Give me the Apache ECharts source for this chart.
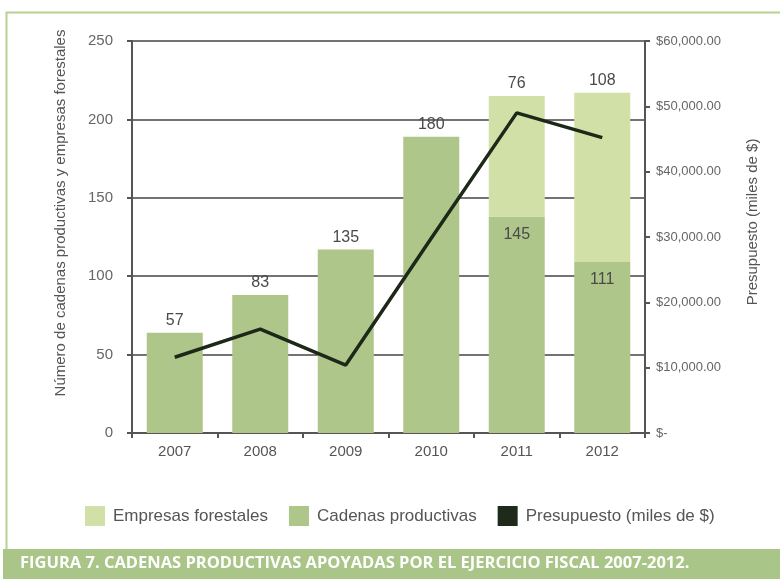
<!DOCTYPE html>
<html>
<head>
<meta charset="utf-8">
<script src="https://cdn.jsdelivr.net/npm/echarts@6/dist/echarts.min.js"></script>
<style>
  html, body { margin: 0; padding: 0; background: #fff; }
  #main { width: 780px; height: 579px; }
</style>
</head>
<body>
<div id="main"></div>
<script>
// datos
const years = ['2007', '2008', '2009', '2010', '2011', '2012']
const cadenas = [64, 88, 117, 189, 138, 109] // altura de la barra
const cadenasLabels = [57, 83, 135, 180, 145, 111] // etiqueta impresa
const empresas = ['-', '-', '-', '-', 77, 108]
const empresasLabels = ['', '', '', '', 76, 108]
const presupuesto = [11600, 15900, 10400, 29800, 49000, 45200]
const leftTicks = [0, 250, 50]
const rightTicks = [0, 60000, 10000]

const font = 'Liberation Sans'
const chart = echarts.init(document.getElementById('main'))

const option = {
  backgroundColor: '#fff',
  textStyle: { fontFamily: font },
  animation: false,
  grid: { left: 132, right: 135, top: 41, bottom: 146 },
  legend: {
    top: 506,
    left: 85,
    padding: 0,
    itemWidth: 20,
    itemHeight: 20,
    itemGap: 21,
    icon: 'rect',
    textStyle: { fontSize: 17, color: '#555', fontFamily: font, padding: [0, 0, 0, 3] },
    data: [
      { name: 'Empresas forestales' },
      { name: 'Cadenas productivas' },
      { name: 'Presupuesto (miles de $)', itemStyle: { color: '#1f2a1a' } }
    ]
  },
  xAxis: {
    type: 'category',
    data: years,
    axisLine: { lineStyle: { color: '#555', width: 2 } },
    axisTick: { show: true, length: 5, lineStyle: { color: '#555', width: 2 } },
    axisLabel: { color: '#555', fontSize: 15, margin: 11 }
  },
  yAxis: [
    {
      type: 'value',
      min: leftTicks[0],
      max: leftTicks[1],
      interval: leftTicks[2],
      name: 'Número de cadenas productivas y empresas forestales',
      nameLocation: 'middle',
      nameRotate: 90,
      nameGap: 64,
      nameTextStyle: { fontSize: 15, color: '#555', padding: [0, 0, 0, 48] },
      axisLine: { show: true, lineStyle: { color: '#555', width: 2 } },
      axisTick: { show: true, length: 5, lineStyle: { color: '#555', width: 2 } },
      axisLabel: { color: '#666', fontSize: 15, margin: 19 },
      splitLine: { show: true, lineStyle: { color: '#444', width: 1.5 } }
    },
    {
      type: 'value',
      position: 'right',
      min: rightTicks[0],
      max: rightTicks[1],
      interval: rightTicks[2],
      name: 'Presupuesto (miles de $)',
      nameLocation: 'middle',
      nameRotate: 90,
      nameGap: 100,
      nameTextStyle: { fontSize: 15, color: '#555', padding: [0, 0, 0, 30] },
      axisLine: { show: true, lineStyle: { color: '#555', width: 2 } },
      axisTick: { show: true, length: 5, lineStyle: { color: '#555', width: 2 } },
      axisLabel: {
        color: '#666',
        fontSize: 13,
        margin: 11,
        formatter: v => v === 0 ? '$-' : '$' + v.toLocaleString('en-US', { minimumFractionDigits: 2 })
      },
      splitLine: { show: false }
    }
  ],
  series: [
    {
      name: 'Cadenas productivas',
      type: 'bar',
      stack: 'total',
      barWidth: 56,
      itemStyle: { color: '#afc68a' },
      label: {
        show: true,
        color: '#4a4a4a',
        fontSize: 16,
        formatter: p => cadenasLabels[p.dataIndex]
      },
      data: cadenas.map((v, i) => ({
        value: v,
        label: empresas[i] === '-'
          ? { position: 'top', distance: 4 }
          : { position: 'insideTop', distance: 10 }
      }))
    },
    {
      name: 'Empresas forestales',
      type: 'bar',
      stack: 'total',
      barWidth: 56,
      itemStyle: { color: '#d0e0a6' },
      label: {
        show: true,
        position: 'top',
        distance: 4,
        color: '#4a4a4a',
        fontSize: 16,
        formatter: p => empresasLabels[p.dataIndex]
      },
      data: empresas
    },
    {
      name: 'Presupuesto (miles de $)',
      type: 'line',
      yAxisIndex: 1,
      symbol: 'none',
      z: 5,
      lineStyle: { color: '#1c2818', width: 3.5 },
      itemStyle: { color: '#1f2a1a' },
      data: presupuesto
    }
  ],
  graphic: [
    {
      type: 'rect',
      left: 4,
      top: 10,
      shape: { width: 790, height: 560 },
      style: { fill: 'none', stroke: '#b8d190', lineWidth: 2 },
      silent: true
    },
    {
      type: 'rect',
      left: 3,
      top: 549,
      shape: { width: 780, height: 30 },
      style: { fill: '#a9c587' },
      silent: true
    },
    {
      type: 'text',
      x: 20,
      y: 563,
      style: {
        text: 'FIGURA 7. CADENAS PRODUCTIVAS APOYADAS POR EL EJERCICIO FISCAL 2007-2012.',
        fill: '#fff',
        verticalAlign: 'middle',
        font: 'bold 16.5px "Open Sans"'
      },
      silent: true
    }
  ]
}

chart.setOption(option)
</script>
</body>
</html>
